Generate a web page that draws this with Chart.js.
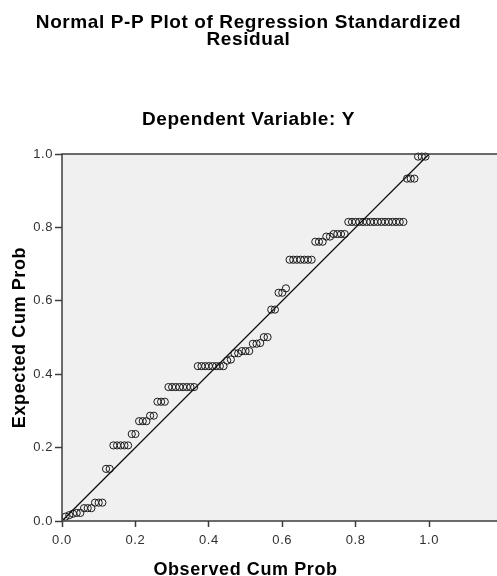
<!DOCTYPE html>
<html>
<head>
<meta charset="utf-8">
<title>Normal P-P Plot of Regression Standardized Residual</title>
<script src="https://cdn.jsdelivr.net/npm/chart.js@4.4.0/dist/chart.umd.min.js"></script>
<style>
  html, body { margin: 0; padding: 0; background: #fff; }
  #wrap { width: 497px; height: 576px; }
</style>
</head>
<body>
<div id="wrap"><canvas id="pp" width="497" height="576"></canvas></div>
<script>
/* ── Data ── */
const observedCumProb = [
  0.01, 0.02, 0.03, 0.04, 0.05, 0.06, 0.07, 0.08, 0.09, 0.10,
  0.11, 0.12, 0.13, 0.14, 0.15, 0.16, 0.17, 0.18, 0.19, 0.20,
  0.21, 0.22, 0.23, 0.24, 0.25, 0.26, 0.27, 0.28, 0.29, 0.30,
  0.31, 0.32, 0.33, 0.34, 0.35, 0.36, 0.37, 0.38, 0.39, 0.40,
  0.41, 0.42, 0.43, 0.44, 0.45, 0.46, 0.47, 0.48, 0.49, 0.50,
  0.51, 0.52, 0.53, 0.54, 0.55, 0.56, 0.57, 0.58, 0.59, 0.60,
  0.61, 0.62, 0.63, 0.64, 0.65, 0.66, 0.67, 0.68, 0.69, 0.70,
  0.71, 0.72, 0.73, 0.74, 0.75, 0.76, 0.77, 0.78, 0.79, 0.80,
  0.81, 0.82, 0.83, 0.84, 0.85, 0.86, 0.87, 0.88, 0.89, 0.90,
  0.91, 0.92, 0.93, 0.94, 0.95, 0.96, 0.97, 0.98, 0.99
];
const expectedCumProb = [
  0.012, 0.016, 0.020, 0.022, 0.022, 0.035, 0.035, 0.035, 0.050, 0.050,
  0.050, 0.142, 0.142, 0.206, 0.206, 0.206, 0.206, 0.206, 0.237, 0.237,
  0.272, 0.272, 0.272, 0.287, 0.287, 0.325, 0.325, 0.325, 0.365, 0.365,
  0.365, 0.365, 0.365, 0.365, 0.365, 0.365, 0.422, 0.422, 0.422, 0.422,
  0.422, 0.422, 0.422, 0.422, 0.437, 0.440, 0.457, 0.457, 0.463, 0.463,
  0.463, 0.483, 0.483, 0.485, 0.501, 0.501, 0.576, 0.576, 0.622, 0.622,
  0.634, 0.712, 0.712, 0.712, 0.712, 0.712, 0.712, 0.712, 0.761, 0.761,
  0.761, 0.775, 0.775, 0.782, 0.782, 0.782, 0.782, 0.815, 0.815, 0.815,
  0.815, 0.815, 0.815, 0.815, 0.815, 0.815, 0.815, 0.815, 0.815, 0.815,
  0.815, 0.815, 0.815, 0.933, 0.933, 0.933, 0.993, 0.993, 0.993
];
const refLineX = [0, 1];
const refLineY = [0, 1];
const tickValues = [0, 0.2, 0.4, 0.6, 0.8, 1.0];
const xTitle = 'Observed Cum Prob';
const yTitle = 'Expected Cum Prob';

const FONT = "'Liberation Sans', Arial, sans-serif";
const FRAME = '#3c3c3c';
const SPACING = '0.6px';

/* Grey plot panel, frame and x title (SPSS centres it on the 0–1 range) */
const plotFrame = {
  id: 'plotFrame',
  beforeDraw(chart) {
    const { ctx, chartArea: a } = chart;
    ctx.letterSpacing = SPACING;
    ctx.save();
    ctx.fillStyle = '#f0f0f0';
    ctx.fillRect(a.left, a.top, a.right - a.left, a.bottom - a.top);
    ctx.restore();
  },
  afterDraw(chart) {
    const { ctx, chartArea: a, height } = chart;
    const xs = chart.scales.x;
    ctx.save();
    ctx.strokeStyle = FRAME;
    ctx.lineWidth = 1.5;
    ctx.beginPath();
    ctx.moveTo(a.right, a.top);
    ctx.lineTo(a.left, a.top);
    ctx.lineTo(a.left, a.bottom);
    ctx.lineTo(a.right, a.bottom);
    ctx.stroke();

    const mid = (xs.getPixelForValue(tickValues[0]) +
                 xs.getPixelForValue(tickValues[tickValues.length - 1])) / 2;
    ctx.letterSpacing = SPACING;
    ctx.font = 'bold 18px ' + FONT;
    ctx.fillStyle = '#000';
    ctx.textAlign = 'center';
    ctx.textBaseline = 'alphabetic';
    ctx.fillText(xTitle, mid, height - 1);
    ctx.restore();
  }
};

function axis(isY) {
  return {
    type: 'linear',
    min: 0,
    max: isY ? 1 : 1.185,
    border: { display: false },
    grid: {
      drawOnChartArea: false,
      drawTicks: true,
      tickLength: isY ? 7 : 6,
      tickWidth: 1.5,
      color: FRAME
    },
    afterBuildTicks: (s) => { s.ticks = tickValues.map(v => ({ value: v })); },
    afterFit: (s) => {
      if (isY) {
        s.width = 62;
      } else {
        s.height = 55;
        s.paddingRight = 0;
      }
    },
    ticks: {
      autoSkip: false,
      maxRotation: 0,
      padding: isY ? 2 : 6,
      color: '#303030',
      font: { family: FONT, size: 13 },
      callback: (v) => Number(v).toFixed(1)
    },
    title: {
      display: isY,
      text: yTitle,
      color: '#000',
      font: { family: FONT, size: 18, weight: 'bold', lineHeight: 1.2 },
      padding: { top: 9, bottom: 0 }
    }
  };
}

new Chart(document.getElementById('pp'), {
  type: 'scatter',
  data: {
    datasets: [
      {
        label: 'Reference',
        type: 'line',
        data: refLineX.map((x, i) => ({ x: x, y: refLineY[i] })),
        borderColor: '#111',
        borderWidth: 1.3,
        pointRadius: 0,
        fill: false,
        tension: 0
      },
      {
        label: 'Residual',
        data: observedCumProb.map((x, i) => ({ x: x, y: expectedCumProb[i] })),
        pointStyle: 'circle',
        pointRadius: 3.6,
        borderWidth: 1,
        borderColor: '#1a1a1a',
        backgroundColor: 'rgba(0,0,0,0)',
        clip: false
      }
    ]
  },
  options: {
    responsive: false,
    animation: false,
    layout: { padding: 0, autoPadding: false },
    plugins: {
      legend: { display: false },
      tooltip: { enabled: false },
      title: {
        display: true,
        text: ['Normal P-P Plot of Regression Standardized', 'Residual'],
        color: '#000',
        font: { family: FONT, size: 19, weight: 'bold', lineHeight: 0.88 },
        padding: { top: 14.5, bottom: 0 }
      },
      subtitle: {
        display: true,
        text: 'Dependent Variable: Y',
        color: '#000',
        font: { family: FONT, size: 19, weight: 'bold', lineHeight: 1.2 },
        padding: { top: 60, bottom: 23.3 }
      }
    },
    scales: {
      x: axis(false),
      y: axis(true)
    }
  },
  plugins: [plotFrame]
});
</script>
</body>
</html>
